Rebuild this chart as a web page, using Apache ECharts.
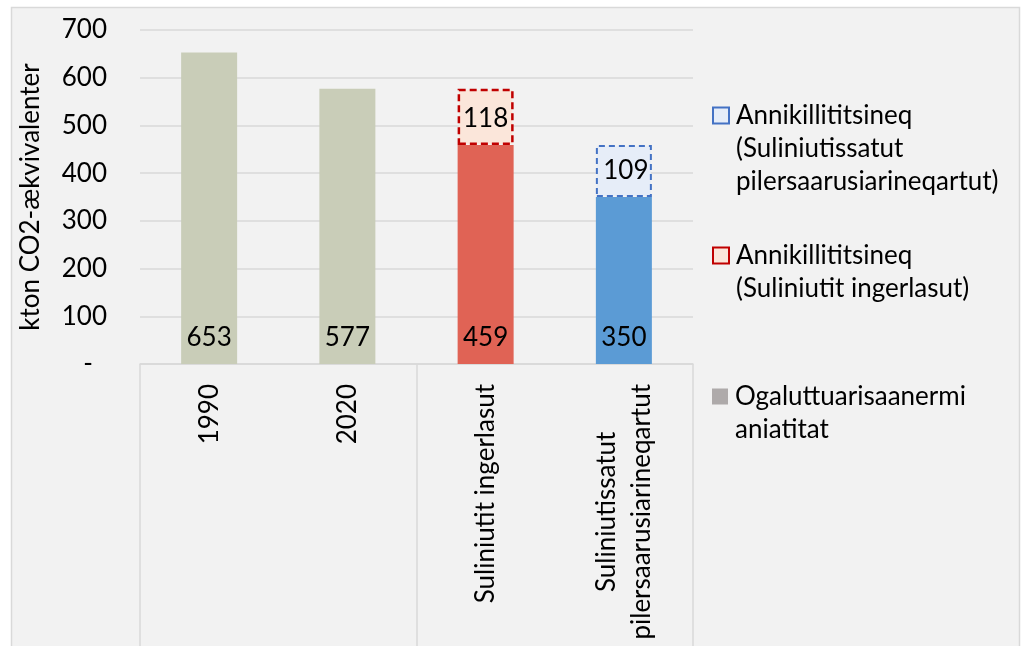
<!DOCTYPE html>
<html>
<head>
<meta charset="utf-8">
<script src="https://cdn.jsdelivr.net/npm/echarts@6/dist/echarts.min.js"></script>
<style>
  html, body { margin: 0; padding: 0; background: #ffffff; }
  #chart { width: 1025px; height: 646px; }
</style>
</head>
<body>
<div id="chart"></div>
<script>
// data
var categories = ['1990', '2020', 'Suliniutit ingerlasut', 'Suliniutissatut\npilersaarusiarineqartut'];
var baseValues = [653, 577, 459, 350];
var reductionOngoing = ['-', '-', 118, '-'];
var reductionPlanned = ['-', '-', '-', 109];
var yTicks = [0, 100, 200, 300, 400, 500, 600, 700];

var nameBase = 'Ogaluttuarisaanermi\naniatitat';
var nameOngoing = 'Annikillititsineq\n(Suliniutit ingerlasut)';
var namePlanned = 'Annikillititsineq\n(Suliniutissatut\npilersaarusiarineqartut)';

var baseColors = ['#c9cdb8', '#c9cdb8', '#e06355', '#5b9bd5'];
var FONT = 'Lato';
var FS = 26;
var LH = 33;

var myChart = echarts.init(document.getElementById('chart'));

// one legend per item, empty lines on top so the icon sits on the first line
function makeLegend(name, top) {
  var lines = name.split('\n').length;
  var pad = new Array(lines).join('\n');
  return {
    orient: 'vertical',
    left: 712,
    top: top,
    padding: 0,
    icon: 'rect',
    itemWidth: 16,
    itemHeight: 16,
    itemGap: 0,
    selectedMode: false,
    data: [name],
    formatter: function (n) { return pad + n; },
    textStyle: {
      fontFamily: FONT,
      fontSize: FS,
      color: '#000',
      lineHeight: LH,
      padding: [0, 0, 0, 2]
    }
  };
}

var option = {
  backgroundColor: '#ffffff',
  animation: false,
  graphic: [{
    type: 'rect',
    z: -100,
    silent: true,
    shape: { x: 11.5, y: 7.5, width: 1008, height: 660 },
    style: { fill: '#f2f2f2', stroke: '#d9d9d9', lineWidth: 1.5 }
  }],
  legend: [
    makeLegend(namePlanned, 33),
    makeLegend(nameOngoing, 206),
    makeLegend(nameBase, 347)
  ],
  grid: { left: 140, right: 332, top: 30, bottom: 282 },
  xAxis: [{
    type: 'category',
    data: categories,
    axisLine: { lineStyle: { color: '#d9d9d9', width: 1.5 } },
    axisTick: { show: false },
    axisLabel: {
      rotate: 90,
      margin: 20,
      fontFamily: FONT,
      fontSize: FS,
      color: '#000',
      lineHeight: 35,
      interval: 0,
      formatter: function (v) {
        return v.split('\n').map(function (s) { return '{c|' + s + '}'; }).join('\n');
      },
      rich: {
        c: { align: 'center', fontFamily: FONT, fontSize: FS, color: '#000', lineHeight: 35 }
      }
    }
  }, {
    // group separators
    type: 'category',
    position: 'bottom',
    data: ['a', 'b'],
    axisLine: { show: false },
    axisLabel: { show: false },
    axisTick: { show: true, length: 300, lineStyle: { color: '#d9d9d9', width: 1.5 } }
  }],
  yAxis: {
    type: 'value',
    min: 0,
    max: 700,
    interval: 100,
    name: 'kton CO2-ækvivalenter',
    nameLocation: 'middle',
    nameRotate: 90,
    nameGap: 96,
    nameTextStyle: { fontFamily: FONT, fontSize: FS, color: '#000' },
    axisLine: { show: false },
    axisTick: { show: false },
    splitLine: { lineStyle: { color: '#d9d9d9', width: 1.5 } },
    axisLabel: {
      margin: 33,
      fontFamily: FONT,
      fontSize: FS,
      color: '#000',
      formatter: function (v) {
        return v === 0 ? '{z|-}' : String(v);
      },
      rich: { z: { fontFamily: FONT, fontSize: FS, color: '#000', padding: [0, 14, 0, 0] } }
    }
  },
  series: [{
    name: nameBase,
    type: 'bar',
    stack: 'total',
    barWidth: 56,
    itemStyle: { color: '#aeaaaa' },
    label: {
      show: true,
      position: 'insideBottom',
      distance: 13,
      fontFamily: FONT,
      fontSize: FS,
      color: '#000'
    },
    data: baseValues.map(function (v, i) {
      return { value: v, itemStyle: { color: baseColors[i] } };
    })
  }, {
    name: nameOngoing,
    type: 'bar',
    stack: 'total',
    barWidth: 56,
    itemStyle: { color: '#fbe6da', borderColor: '#c00000', borderWidth: 2.5, borderType: [7, 4] },
    label: { show: true, position: 'inside', offset: [0, 2], fontFamily: FONT, fontSize: FS, color: '#000' },
    data: reductionOngoing
  }, {
    name: namePlanned,
    type: 'bar',
    stack: 'total',
    barWidth: 56,
    itemStyle: { color: '#e6edf8', borderColor: '#4472c4', borderWidth: 2, borderType: [6, 4] },
    label: { show: true, position: 'inside', offset: [2, 0], fontFamily: FONT, fontSize: FS, color: '#000' },
    data: reductionPlanned
  }]
};

myChart.setOption(option);
</script>
</body>
</html>
